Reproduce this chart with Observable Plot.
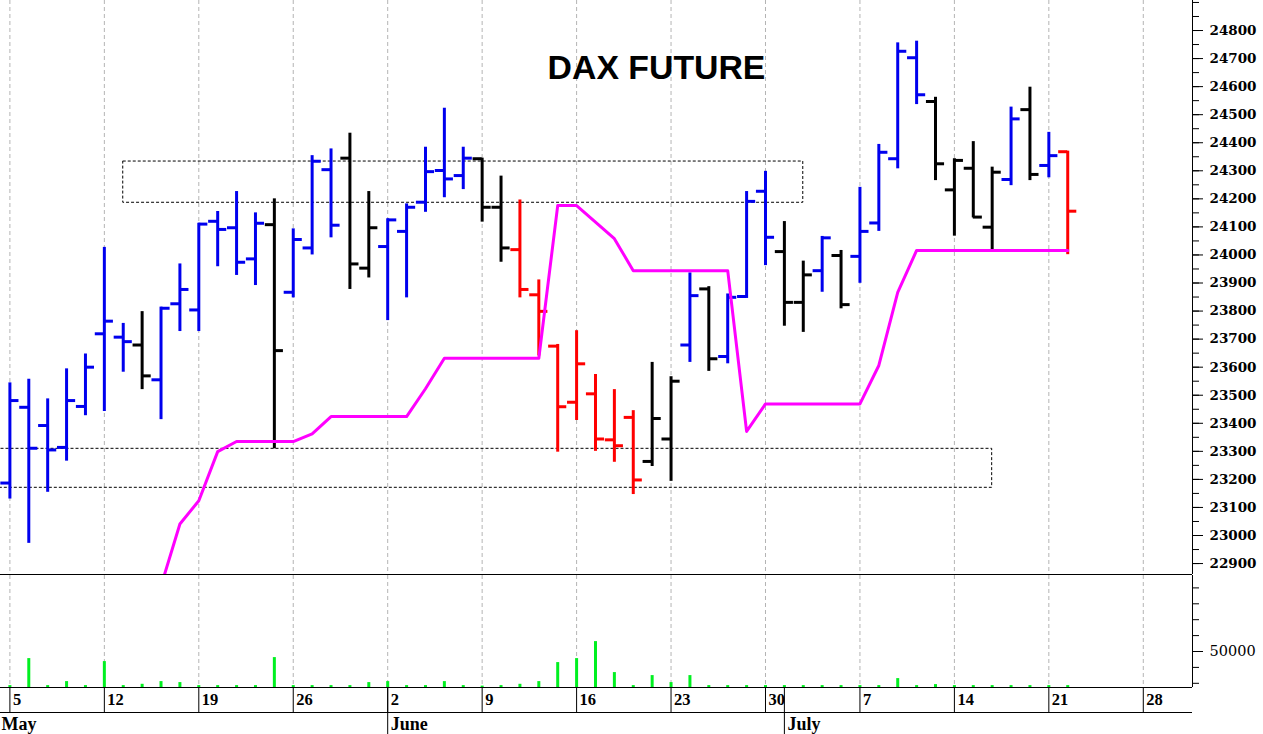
<!DOCTYPE html>
<html><head><meta charset="utf-8">
<script src="https://cdn.jsdelivr.net/npm/d3@7"></script>
<script src="https://cdn.jsdelivr.net/npm/@observablehq/plot@0.6"></script>
<style>
html,body{margin:0;padding:0;background:#fff;overflow:hidden;}
#chart{width:1263px;height:734px;overflow:hidden;display:flex;flex-direction:column;}
#chart svg{display:block;}
</style></head><body><div id="chart"></div>
<script>
const title = "DAX FUTURE";
// trading days (index 0 = 2 May 2025)
const dates = ["2025-05-02",
 "2025-05-05","2025-05-06","2025-05-07","2025-05-08","2025-05-09",
 "2025-05-12","2025-05-13","2025-05-14","2025-05-15","2025-05-16",
 "2025-05-19","2025-05-20","2025-05-21","2025-05-22","2025-05-23",
 "2025-05-26","2025-05-27","2025-05-28","2025-05-29","2025-05-30",
 "2025-06-02","2025-06-03","2025-06-04","2025-06-05","2025-06-06",
 "2025-06-09","2025-06-10","2025-06-11","2025-06-12","2025-06-13",
 "2025-06-16","2025-06-17","2025-06-18","2025-06-19","2025-06-20",
 "2025-06-23","2025-06-24","2025-06-25","2025-06-26","2025-06-27",
 "2025-06-30","2025-07-01","2025-07-02","2025-07-03","2025-07-04",
 "2025-07-07","2025-07-08","2025-07-09","2025-07-10","2025-07-11",
 "2025-07-14","2025-07-15","2025-07-16","2025-07-17","2025-07-18",
 "2025-07-21","2025-07-22"];
const opens = [23150,
 23187,23457,23392,23314,23460,
 23719,23707,23679,23555,23826,
 23804,24120,24097,23986,24108,
 23867,24025,24304,24345,23953,
 24030,24084,24188,24301,24283,
 24343,24170,24019,23858,23675,
 23475,23505,23341,23421,23264,
 23344,23679,23879,23638,23852,
 24227,24012,23831,23944,23998,
 23995,24114,24343,24703,24547,
 24232,24309,24099,24269,24518,
 24319,24368];
const highs = [23290,
 23544,23557,23487,23594,23647,
 24027,23756,23798,23814,23968,
 24113,24155,24226,24150,24200,
 24093,24354,24378,24434,24226,
 24129,24182,24384,24523,24384,
 24345,24281,24196,23911,23681,
 23730,23574,23520,23445,23617,
 23566,23936,23887,23861,24226,
 24298,24119,23978,24066,24016,
 24241,24394,24756,24762,24562,
 24343,24404,24313,24527,24598,
 24437,24370];
const lows = [23120,
 23130,22972,23154,23265,23427,
 23442,23582,23520,23413,23727,
 23727,23958,23927,23891,23309,
 23847,24000,24061,23877,23918,
 23766,23847,24152,24204,24233,
 24117,23974,23847,23640,23297,
 23410,23300,23261,23146,23246,
 23193,23617,23585,23612,23845,
 23962,23746,23724,23867,23808,
 23899,24084,24307,24536,24265,
 24067,24132,24018,24247,24265,
 24275,24001];
const closes = [23249,
 23481,23311,23305,23481,23600,
 23764,23691,23569,23810,23877,
 24110,24091,23974,24113,23659,
 24055,24334,24106,23968,24097,
 24125,24170,24297,24271,24345,
 24170,24025,23877,23799,23459,
 23612,23344,23320,23198,23417,
 23550,23855,23630,23849,24191,
 24063,23831,23929,24061,23823,
 24084,24366,24726,24571,24325,
 24337,24135,24295,24485,24287,
 24354,24156];
const barColors = ["B",
 "B","B","B","B","B",
 "B","B","K","B","B",
 "B","B","B","B","K",
 "B","B","B","K","K",
 "B","B","B","B","B",
 "K","K","R","R","R",
 "R","R","R","R","K",
 "K","B","K","B","B",
 "B","K","K","B","K",
 "B","B","B","B","K",
 "K","K","K","B","K",
 "B","R"];
const stopLine = [null,
 null,null,null,null,null,
 null,null,null,22820,23041,
 23124,23299,23335,23335,23335,
 23335,23362,23424,23424,23424,
 23424,23424,23523,23632,23632,
 23632,23632,23632,23632,24176,
 24176,24117,24058,23944,23944,
 23944,23944,23944,23944,23371,
 23469,23469,23469,23469,23469,
 23469,23606,23867,24016,24016,
 24016,24016,24016,24016,24016,
 24016,24016];
const volumes = [28560,
 28560,45540,28560,31070,28560,
 43650,28560,29380,31070,30450,
 28560,28560,28560,28560,46170,
 28560,28560,28560,28560,30450,
 31070,28560,28560,31070,28560,
 28250,28560,29380,31070,43030,
 45540,56230,36740,28560,34850,
 30450,34850,28560,28560,28560,
 28560,28560,28560,28560,28560,
 28560,28560,32960,28560,29190,
 28560,28560,28560,28560,28560,
 28560,28560];
const zones = [
 {from:"2025-05-13", to:"2025-07-02", lo:24186, hi:24333},
 {from:"2025-05-02", to:"2025-07-16", lo:23170, hi:23309}
];
const weekTickDates = ["2025-05-05","2025-05-12","2025-05-19","2025-05-26","2025-06-02","2025-06-09","2025-06-16","2025-06-23","2025-06-30","2025-07-07","2025-07-14","2025-07-21","2025-07-28"];
const weekTickLabels = ["5","12","19","26","2","9","16","23","30","7","14","21","28"];
const monthDates = ["2025-05-02","2025-06-02","2025-07-01"];
const monthLabels = ["May","June","July"];
const priceTicks = d3.range(22900, 24801, 100);
const priceMinorTicks = d3.range(22900, 24901, 50);
const volTicks = [50000];
const volMinorTicks = d3.range(30000, 90001, 10000);

const palette = {B:"#0000ee", K:"#000000", R:"#ff0000"};
const base = Date.UTC(2025,4,2);
function dayIndex(iso){
  const t = Date.parse(iso+"T00:00:00Z"); let n = 0;
  for (let d = base; d < t; d += 864e5) { const wd = new Date(d+864e5).getUTCDay(); if (wd !== 0 && wd !== 6) n++; }
  return n;
}
const xDomain = [0.5024, 63.605];
const priceDomain = [22861, 24907];
const volDomain = [27358, 97800];

const bars = dates.map((d,i)=>({i:dayIndex(d), open:opens[i], high:highs[i], low:lows[i], close:closes[i], color:palette[barColors[i]]}));
const stopPts = dates.map((d,i)=>({i:dayIndex(d), v:stopLine[i]})).filter(d=>d.v!=null);
const volPts = dates.map((d,i)=>({i:dayIndex(d), v:volumes[i]}));
const weekIdx = weekTickDates.map(dayIndex);
const monthIdx = monthDates.map(dayIndex);
// month label anchors: a label whose month starts left of the frame sits at the frame edge
const monthLabelData = monthIdx.map((m,i)=>({x:Math.max(m, xDomain[0]), label:monthLabels[i], edge:m < xDomain[0]}));
const tickHalf = 0.48;

const price = Plot.plot({
  width:1263, height:575, marginLeft:0, marginRight:71, marginTop:0, marginBottom:1,
  style:{fontFamily:"'DejaVu Serif', serif", fontSize:"13.5px", fontWeight:"bold", color:"#000", background:"#fff"},
  x:{domain:xDomain, axis:null},
  y:{domain:priceDomain},
  color:{type:"identity"},
  marks:[
    Plot.ruleX(weekIdx, {stroke:"#b4b4b4", strokeDasharray:"4,3"}),
    Plot.rect(zones, {x1:d=>dayIndex(d.from), x2:d=>dayIndex(d.to), y1:"lo", y2:"hi", fill:"none", stroke:"#000", strokeWidth:1, strokeDasharray:"3,2", clip:true}),
    Plot.ruleX(bars, {x:"i", y1:"low", y2:"high", stroke:"color", strokeWidth:3, clip:true}),
    Plot.ruleY(bars, {x1:d=>d.i-tickHalf, x2:"i", y:"open", stroke:"color", strokeWidth:3, clip:true}),
    Plot.ruleY(bars, {x1:"i", x2:d=>d.i+tickHalf, y:"close", stroke:"color", strokeWidth:3, clip:true}),
    Plot.line(stopPts, {x:"i", y:"v", stroke:"#ff00ff", strokeWidth:3, clip:true}),
    Plot.ruleY([priceDomain[0]], {stroke:"#000"}),
    Plot.ruleX([xDomain[1]], {stroke:"#000"}),
    Plot.axisY(priceMinorTicks, {anchor:"right", tickSize:6, tickFormat:()=>"", label:null}),
    Plot.axisY(priceTicks, {anchor:"right", tickSize:10, tickPadding:7, tickFormat:d=>String(d), label:null}),
    Plot.text([title], {frameAnchor:"top-left", dx:656, dy:78.5, textAnchor:"middle", lineAnchor:"bottom", fontFamily:"'Liberation Sans', Arial, sans-serif", fontWeight:"bold", fontSize:33.8, fill:"#000"})
  ]
});

const vol = Plot.plot({
  width:1263, height:159, marginLeft:0, marginRight:71, marginTop:0, marginBottom:47,
  style:{fontFamily:"'DejaVu Serif', serif", fontSize:"14.5px", fontWeight:"normal", color:"#000", background:"#fff"},
  x:{domain:xDomain},
  y:{domain:volDomain},
  marks:[
    Plot.ruleX(weekIdx, {stroke:"#b4b4b4", strokeDasharray:"4,3"}),
    Plot.ruleX(volPts, {x:"i", y1:volDomain[0], y2:"v", stroke:"#00f020", strokeWidth:3, clip:true}),
    Plot.ruleY([volDomain[0]], {stroke:"#000"}),
    Plot.ruleY([volDomain[0]], {stroke:"#000", dy:25}),
    Plot.ruleX([xDomain[1]], {stroke:"#000"}),
    Plot.axisX(weekIdx, {tickSize:25, tickFormat:()=>"", label:null}),
    Plot.axisX(monthIdx, {tickSize:47, tickFormat:()=>"", label:null}),
    Plot.text(weekIdx, {x:d=>d, frameAnchor:"bottom", text:(d,i)=>weekTickLabels[i], textAnchor:"start", lineAnchor:"bottom", dx:3, dy:17.4, fontFamily:"'Liberation Serif', serif", fontWeight:"bold", fontSize:16.5, fill:"#000"}),
    Plot.text(monthLabelData.filter(d=>d.edge), {x:"x", frameAnchor:"bottom", text:"label", textAnchor:"start", lineAnchor:"bottom", dx:1, dy:42.5, fontFamily:"'Liberation Serif', serif", fontWeight:"bold", fontSize:18, fill:"#000"}),
    Plot.text(monthLabelData.filter(d=>!d.edge), {x:"x", frameAnchor:"bottom", text:"label", textAnchor:"start", lineAnchor:"bottom", dx:3, dy:42.5, fontFamily:"'Liberation Serif', serif", fontWeight:"bold", fontSize:18, fill:"#000"}),
    Plot.axisY(volMinorTicks, {anchor:"right", tickSize:6, tickFormat:()=>"", label:null}),
    Plot.axisY(volTicks, {anchor:"right", tickSize:10, tickPadding:7, tickFormat:d=>String(d), label:null})
  ]
});

document.getElementById("chart").append(price, vol);
</script></body></html>
